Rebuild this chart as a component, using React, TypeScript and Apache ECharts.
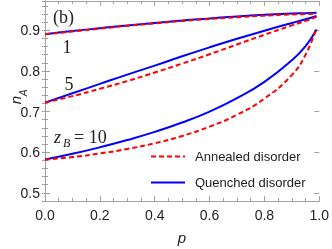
import React, { useEffect, useRef } from "react";
import * as echarts from "echarts";

const pValues = [0, 0.1, 0.2, 0.3, 0.4, 0.5, 0.6, 0.7, 0.8, 0.9, 0.95, 0.99];

const quenched1 = [0.890, 0.898, 0.905, 0.912, 0.918, 0.924, 0.929, 0.934, 0.938, 0.941, 0.942, 0.943];
const annealed1 = [0.890, 0.897, 0.904, 0.911, 0.917, 0.923, 0.928, 0.932, 0.936, 0.939, 0.940, 0.941];
const quenched5 = [0.722, 0.745, 0.768, 0.791, 0.813, 0.836, 0.858, 0.879, 0.899, 0.918, 0.927, 0.935];
const annealed5 = [0.722, 0.738, 0.756, 0.775, 0.796, 0.818, 0.841, 0.865, 0.889, 0.912, 0.923, 0.933];
const quenched10 = [0.582, 0.596, 0.612, 0.630, 0.650, 0.673, 0.700, 0.733, 0.773, 0.826, 0.861, 0.902];
const annealed10 = [0.582, 0.588, 0.597, 0.608, 0.622, 0.640, 0.663, 0.692, 0.732, 0.790, 0.840, 0.905];

const xTicks = [0, 0.2, 0.4, 0.6, 0.8, 1.0];
const yTicks = [0.5, 0.6, 0.7, 0.8, 0.9];

const ANNEALED = "Annealed disorder";
const QUENCHED = "Quenched disorder";

const FRAME = "#a0a0a0";
const SANS = "Liberation Sans";
const SERIF = "Liberation Serif";

function pairs(vals: number[]) {
  return pValues.map((p, i) => [p, vals[i]]);
}

export default function App() {
  const ref = useRef<HTMLDivElement>(null);
  useEffect(() => {
    if (!ref.current) return;
    const chart = echarts.init(ref.current, null, { renderer: "svg" });
    const blue = (name: string, vals: number[]) => ({
      name,
      type: "line",
      data: pairs(vals),
      symbol: "none",
      smooth: true,
      lineStyle: { color: "#0000ff", width: 2 },
      itemStyle: { color: "#0000ff" },
      xAxisIndex: 0,
      yAxisIndex: 0,
    });
    const red = (name: string, vals: number[]) => ({
      name,
      type: "line",
      data: pairs(vals),
      symbol: "none",
      smooth: true,
      lineStyle: { color: "#ff0000", width: 2, type: [5, 3] },
      itemStyle: { color: "#ff0000" },
      xAxisIndex: 0,
      yAxisIndex: 0,
    });
    const yMin = 0.48;
    const yMax = 0.972;
    const isMajor = (v: number) => Math.abs(v * 10 - Math.round(v * 10)) < 1e-6;
    const xCommon = {
      type: "value",
      min: 0,
      max: 1,
      interval: 0.2,
      splitLine: { show: false },
      axisLine: { show: true, lineStyle: { color: FRAME, width: 1 } },
      axisTick: { show: true, inside: true, length: 5, lineStyle: { color: FRAME } },
      minorTick: { show: true, splitNumber: 4, length: 3, lineStyle: { color: FRAME } },
    };
    const yMinor = {
      type: "value",
      min: yMin,
      max: yMax,
      interval: 0.02,
      splitLine: { show: false },
      axisLine: { show: true, lineStyle: { color: FRAME, width: 1 } },
      axisTick: { show: true, inside: true, length: 3, lineStyle: { color: FRAME } },
    };
    const yMajor = {
      type: "value",
      min: yMin,
      max: yMax,
      splitLine: { show: false },
      axisLine: { show: false },
      axisLabel: { show: false },
      axisTick: { show: true, inside: true, length: 5, customValues: yTicks, lineStyle: { color: FRAME } },
    };
    chart.setOption({
      animation: false,
      grid: { left: 45, right: 11, top: 1, bottom: 48, containLabel: false },
      xAxis: [
        {
          ...xCommon,
          position: "bottom",
          axisLabel: {
            show: true,
            fontSize: 14,
            fontFamily: SANS,
            color: "#222",
            margin: 7,
            customValues: xTicks,
            formatter: (v: number) => v.toFixed(1),
          },
        },
        { ...xCommon, position: "top", axisLabel: { show: false } },
      ],
      yAxis: [
        {
          ...yMinor,
          position: "left",
          axisLabel: {
            show: true,
            fontSize: 14,
            fontFamily: SANS,
            color: "#222",
            margin: 5,
            formatter: (v: number) => (isMajor(v) && v > 0.49 && v < 0.95 ? v.toFixed(1) : ""),
          },
        },
        { ...yMinor, position: "right", axisLabel: { show: false } },
        { ...yMajor, position: "left" },
        { ...yMajor, position: "right" },
      ],
      legend: {
        data: [ANNEALED, QUENCHED],
        orient: "vertical",
        left: 150,
        top: 150,
        padding: 0,
        itemWidth: 34,
        itemHeight: 14,
        itemGap: 13,
        itemStyle: { color: "rgba(0,0,0,0)", borderColor: "rgba(0,0,0,0)", borderWidth: 0 },
        textStyle: { fontSize: 13, fontFamily: SANS, color: "#222", padding: [0, 0, 0, 5] },
      },
      series: [
        blue(QUENCHED, quenched1),
        blue(QUENCHED, quenched5),
        blue(QUENCHED, quenched10),
        red(ANNEALED, annealed1),
        red(ANNEALED, annealed5),
        red(ANNEALED, annealed10),
      ],
      graphic: [
        { type: "text", x: 53, y: 17, style: { text: "(b)", font: `18px '${SERIF}'`, fill: "#222", textVerticalAlign: "middle" } },
        { type: "text", x: 67, y: 47, style: { text: "1", font: `18px '${SERIF}'`, fill: "#222", textAlign: "center", textVerticalAlign: "middle" } },
        { type: "text", x: 69, y: 84, style: { text: "5", font: `18px '${SERIF}'`, fill: "#222", textAlign: "center", textVerticalAlign: "middle" } },
        { type: "text", x: 54, y: 137, style: { text: "z", font: `italic 18px '${SERIF}'`, fill: "#222", textVerticalAlign: "middle" } },
        { type: "text", x: 63, y: 143, style: { text: "B", font: `italic 12px '${SERIF}'`, fill: "#222", textVerticalAlign: "middle" } },
        { type: "text", x: 74, y: 137, style: { text: "= 10", font: `18px '${SERIF}'`, fill: "#222", textVerticalAlign: "middle" } },
        { type: "text", x: 15, y: 100, rotation: Math.PI / 2, style: { text: "n", font: `italic 15px '${SANS}'`, fill: "#222", textAlign: "center", textVerticalAlign: "middle" } },
        { type: "text", x: 23, y: 93, rotation: Math.PI / 2, style: { text: "A", font: `italic 10px '${SANS}'`, fill: "#222", textAlign: "center", textVerticalAlign: "middle" } },
        { type: "text", x: 182, y: 237, style: { text: "p", font: `italic 15px '${SANS}'`, fill: "#222", textAlign: "center", textVerticalAlign: "middle" } },
      ],
    });
    return () => chart.dispose();
  }, []);
  return <div ref={ref} style={{ position: "fixed", left: 0, top: 0, width: 332, height: 249 }} />;
}
